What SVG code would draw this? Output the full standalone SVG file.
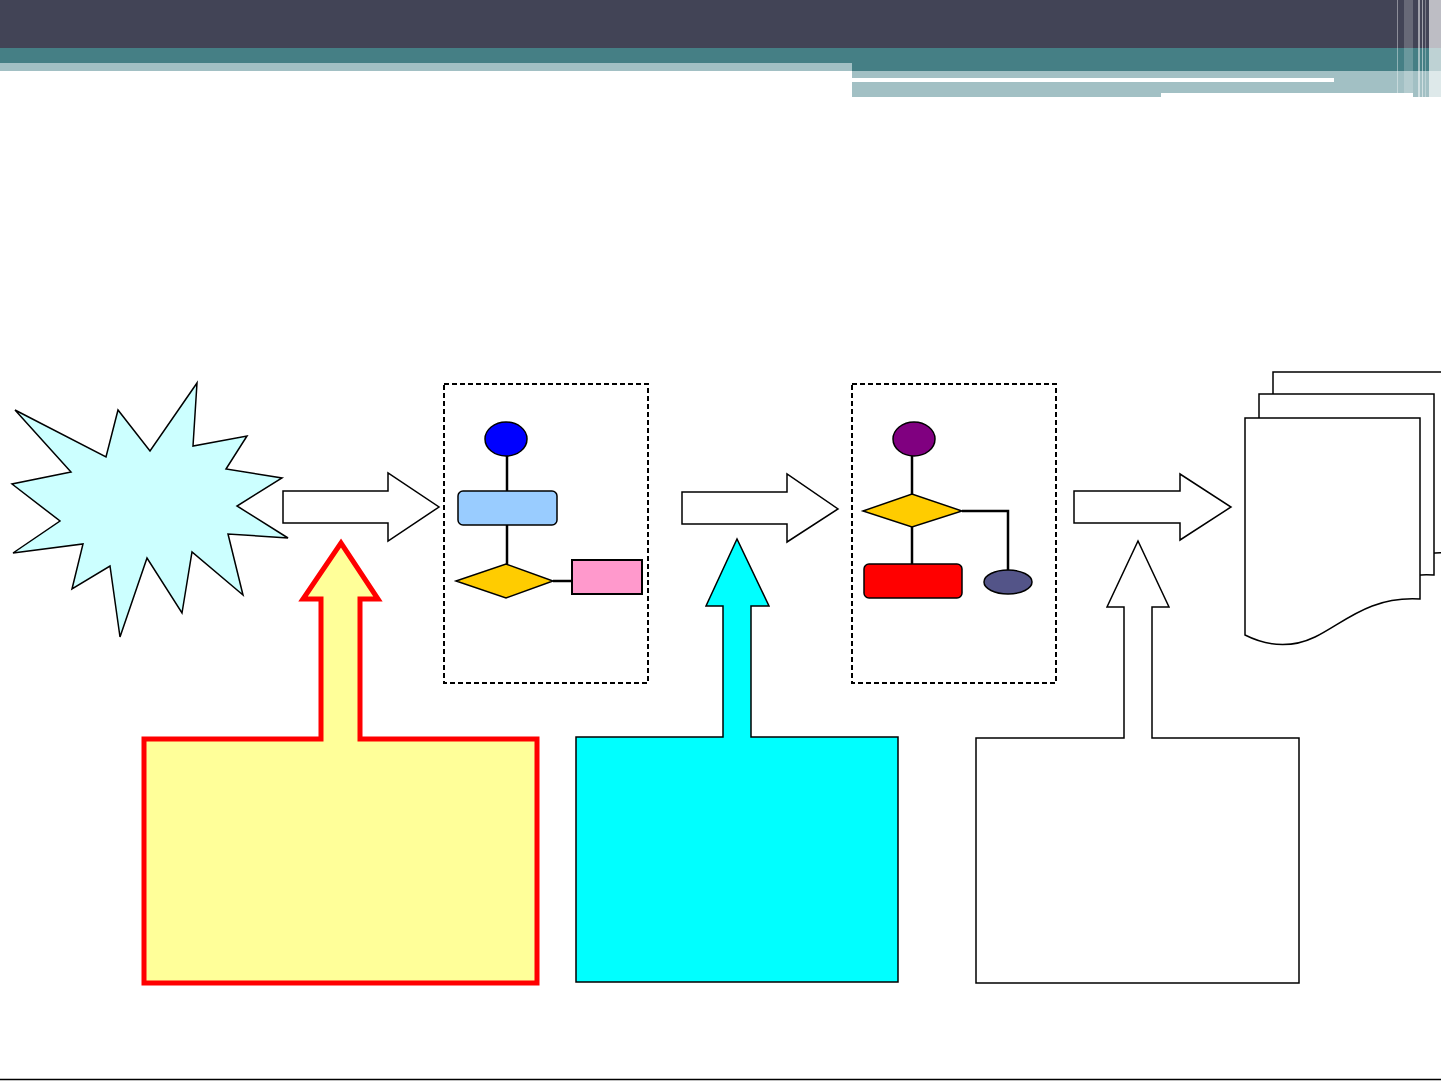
<svg xmlns="http://www.w3.org/2000/svg" width="1441" height="1081" viewBox="0 0 1441 1081">
<style>
.blk{stroke:#000;stroke-width:1.5;fill:none}
.shape{stroke:#000;stroke-width:1.5}
.dash{fill:none;stroke:#000;stroke-width:2;stroke-dasharray:5,3}
.wh{fill:#fff}
</style>
<defs>
<path id="doc" d="M1245,418 H1420 V599 C1370,596 1345,622 1315,637 C1290,649 1265,645 1245,635 Z"/>
</defs>
<rect width="1441" height="1081" fill="#fff"/>
<g id="header">
<rect x="0" y="0" width="1441" height="48" fill="#424456"/>
<rect x="0" y="48" width="1441" height="23" fill="#457F85"/>
<rect x="0" y="63" width="852" height="8" fill="#A2C0C4"/>
<rect x="852" y="71" width="589" height="26" fill="#A2C0C4"/>
<rect x="852" y="78" width="482" height="4" fill="#fff"/>
<rect x="1161" y="93" width="252" height="4" fill="#fff"/>
<rect x="1397" y="0" width="1" height="97" fill="#fff" opacity="0.4"/>
<rect x="1404" y="0" width="9" height="97" fill="#fff" opacity="0.2"/>
<rect x="1418" y="0" width="2" height="97" fill="#fff" opacity="0.5"/>
<rect x="1422" y="0" width="1" height="97" fill="#fff" opacity="0.5"/>
<rect x="1425" y="0" width="1" height="97" fill="#fff" opacity="0.3"/>
<rect x="1429" y="0" width="12" height="97" fill="#fff" opacity="0.65"/>
</g>
<g id="burst">
<polygon class="shape" fill="#CCFFFF" points="15,410 106,457 118,410 150,451 197,383 193,446 247,436 226,469 282,478 237,506 288,538 228,534 243,595 192,552 182,613 147,558 120,637 110,566 72,589 83,544 13,553 60,521 12,484 71,472"/>
</g>
<g id="connectors">
<polygon class="shape" fill="#fff" points="283,491 388,491 388,473 439,507 388,541 388,523 283,523"/>
<polygon class="shape" fill="#fff" points="682,492 787,492 787,474 838,509 787,542 787,524 682,524"/>
<polygon class="shape" fill="#fff" points="1074,491 1180,491 1180,474 1231,507 1180,540 1180,523 1074,523"/>
</g>
<g id="flow1">
<rect class="dash" x="444" y="384" width="204" height="299"/>
<line x1="507" y1="456" x2="507" y2="491" stroke="#000" stroke-width="2.5"/>
<line x1="507" y1="525" x2="507" y2="564" stroke="#000" stroke-width="2.5"/>
<line x1="553" y1="581" x2="572" y2="581" stroke="#000" stroke-width="2.5"/>
<ellipse class="shape" cx="506" cy="439" rx="21" ry="17" fill="#0000FF"/>
<rect class="shape" x="458" y="491" width="99" height="34" rx="5" fill="#99CCFF"/>
<polygon class="shape" fill="#FFCC00" points="456,581 506,564 553,581 506,598"/>
<rect x="572" y="560" width="70" height="34" fill="#FF99CC" stroke="#000" stroke-width="2"/>
</g>
<g id="flow2">
<rect class="dash" x="852" y="384" width="204" height="299"/>
<line x1="912" y1="456" x2="912" y2="494" stroke="#000" stroke-width="2.5"/>
<line x1="912" y1="527" x2="912" y2="564" stroke="#000" stroke-width="2.5"/>
<polyline points="962,511 1008,511 1008,570" fill="none" stroke="#000" stroke-width="2.5"/>
<ellipse class="shape" cx="914" cy="439" rx="21" ry="17" fill="#800080"/>
<polygon class="shape" fill="#FFCC00" points="863,511 912,494 962,511 912,527"/>
<rect class="shape" x="864" y="564" width="98" height="34" rx="5" fill="#FF0000"/>
<ellipse class="shape" cx="1008" cy="582" rx="24" ry="12" fill="#535488"/>
</g>
<g id="documents">
<use href="#doc" transform="translate(28,-46)" class="shape" fill="#fff"/>
<use href="#doc" transform="translate(14,-24)" class="shape" fill="#fff"/>
<use href="#doc" class="shape" fill="#fff"/>
</g>
<g id="callout-yellow">
<path d="M144,739 H321 V599 H303 L341,543 L378,599 H360 V739 H537 V983 H144 Z" fill="#FFFF99" stroke="#FF0000" stroke-width="5"/>
</g>
<g id="callout-cyan">
<path d="M576,737 H723 V606 H706 L737,539 L769,606 H751 V737 H898 V982 H576 Z" fill="#00FFFF" stroke="#000" stroke-width="1.5"/>
</g>
<g id="callout-white">
<path d="M976,738 H1124 V607 H1107 L1138,541 L1169,607 H1152 V738 H1299 V983 H976 Z" fill="#fff" stroke="#000" stroke-width="1.5"/>
</g>
<line x1="0" y1="1079.5" x2="1441" y2="1079.5" stroke="#000" stroke-width="1.5"/>
</svg>
